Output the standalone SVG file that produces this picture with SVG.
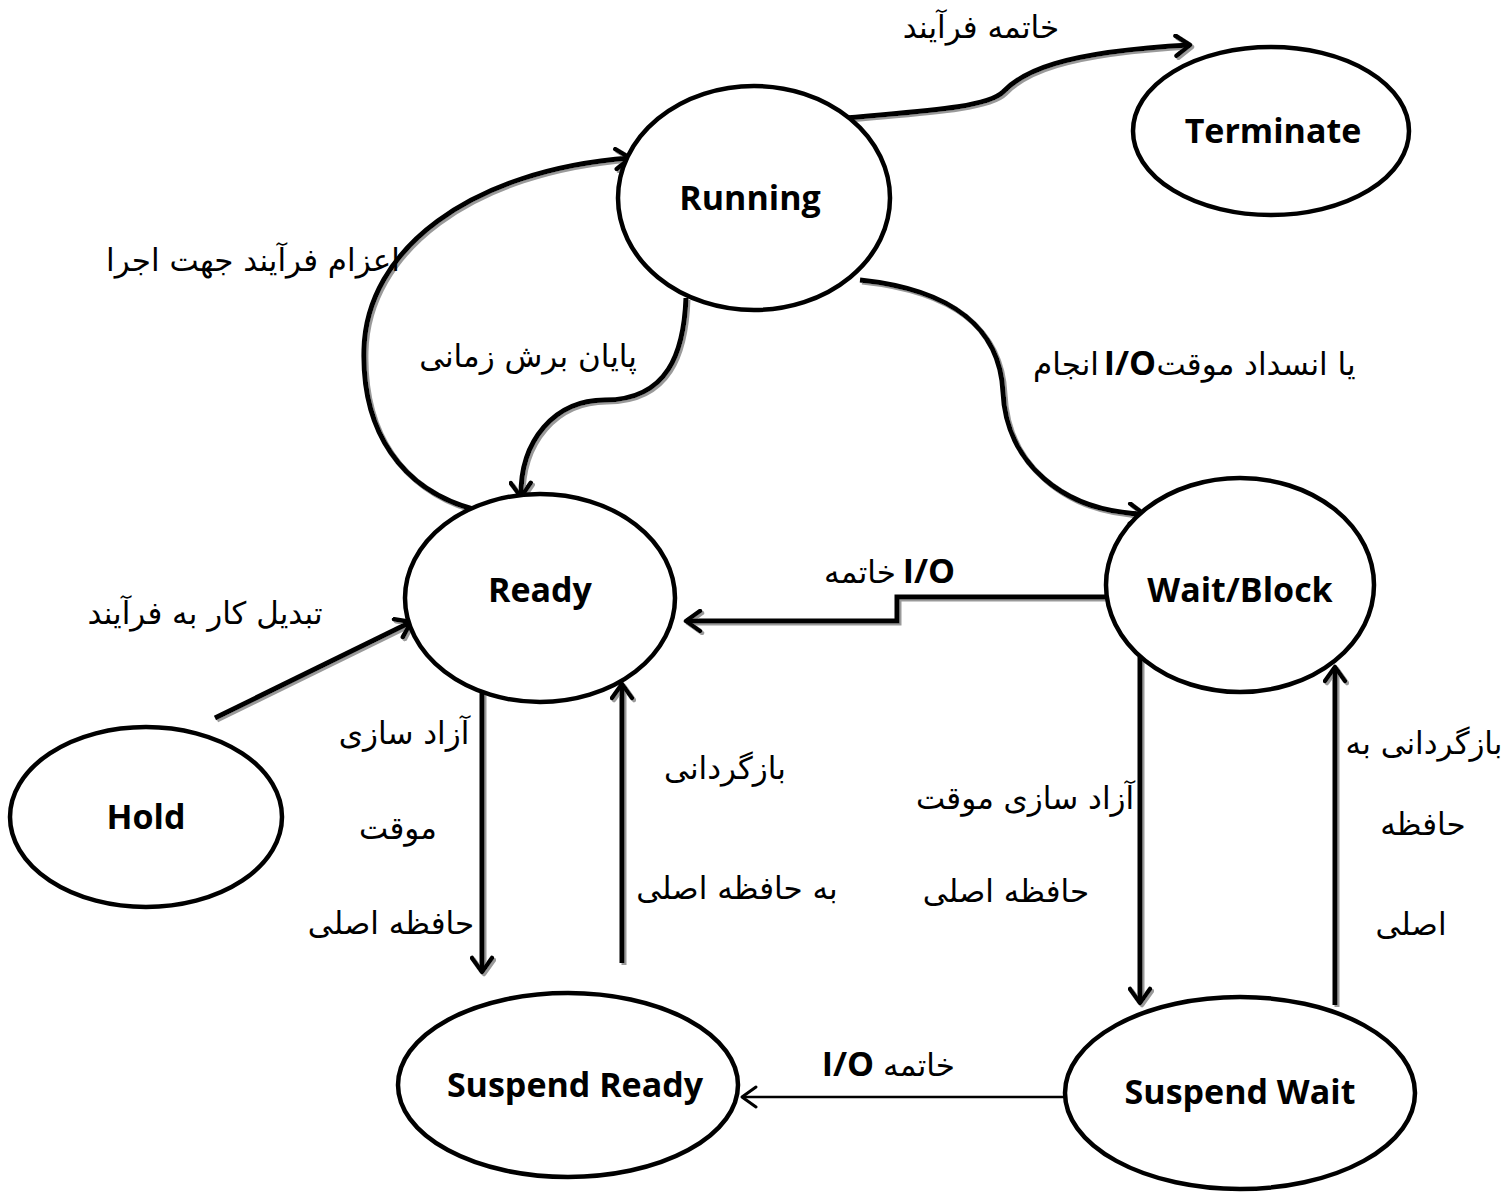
<svg xmlns="http://www.w3.org/2000/svg" width="1505" height="1196" viewBox="0 0 1505 1196">
  <style>
    .state { fill: #ffffff; stroke: #000000; stroke-width: 4.5; }
    .name { font-family: "Open Sans", "Noto Sans", sans-serif; font-weight: bold; font-size: 34px; fill: #000; text-anchor: middle; }
    .edge { fill: none; stroke: #000000; stroke-width: 5; stroke-linejoin: miter; }
    .thin { stroke-width: 2.5; }
    .fa { font-family: "DejaVu Sans", "Noto Sans", sans-serif; font-size: 31px; fill: #000; text-anchor: middle; direction: rtl; }
    .io { font-family: "Open Sans", "Noto Sans", sans-serif; font-weight: bold; font-size: 34px; fill: #000; text-anchor: middle; }
  </style>
  <defs>
    <marker id="arrow" viewBox="-18 -12 22 24" refX="0" refY="0" markerWidth="22" markerHeight="24" markerUnits="userSpaceOnUse" orient="auto">
      <path d="M -14,-10 L 0,0 L -14,10" fill="none" stroke="#000" stroke-width="4.5" stroke-linecap="round" stroke-linejoin="round"/>
    </marker>
    <marker id="arrowThin" viewBox="-18 -12 22 24" refX="0" refY="0" markerWidth="22" markerHeight="24" markerUnits="userSpaceOnUse" orient="auto">
      <path d="M -14,-10 L 0,0 L -14,10" fill="none" stroke="#000" stroke-width="3" stroke-linecap="round" stroke-linejoin="round"/>
    </marker>
    <filter id="shade" x="-10%" y="-10%" width="120%" height="120%">
      <feOffset in="SourceAlpha" dx="2" dy="2" result="off"/>
      <feFlood flood-color="#9a9a9a"/>
      <feComposite in2="off" operator="in" result="sh"/>
      <feMerge><feMergeNode in="sh"/><feMergeNode in="SourceGraphic"/></feMerge>
    </filter>
  </defs>

  <rect width="1505" height="1196" fill="#ffffff"/>

  <!-- transitions -->
  <g id="connectors">
    <g filter="url(#shade)">
      <!-- Running -> Terminate -->
      <path class="edge" d="M 826,120 C 900,112 985,110 1003,92 C 1022,72 1060,52 1190,45" marker-end="url(#arrow)"/>
      <!-- Ready -> Running -->
      <path class="edge" d="M 476,510 C 400,490 362,430 364,350 C 366,250 470,170 630,158" marker-end="url(#arrow)"/>
      <!-- Running -> Ready (time slice) -->
      <path class="edge" d="M 686,298 C 684,352 668,400 605,400 C 555,400 520,440 521,497" marker-end="url(#arrow)"/>
      <!-- Running -> Wait/Block -->
      <path class="edge" d="M 860,280 C 955,290 1000,330 1003,392 C 1006,462 1062,512 1144,514" marker-end="url(#arrow)"/>
      <!-- Wait/Block -> Ready -->
      <path class="edge" d="M 1106,597 L 897,597 L 897,621 L 686,621" marker-end="url(#arrow)"/>
      <!-- Hold -> Ready -->
      <path class="edge" d="M 215,718 L 411,622" marker-end="url(#arrow)"/>
      <!-- Ready -> Suspend Ready -->
      <path class="edge" d="M 482,690 L 482,972" marker-end="url(#arrow)"/>
      <!-- Suspend Ready -> Ready -->
      <path class="edge" d="M 622,963 L 622,684" marker-end="url(#arrow)"/>
      <!-- Wait/Block -> Suspend Wait -->
      <path class="edge" d="M 1140,657 L 1140,1003" marker-end="url(#arrow)"/>
      <!-- Suspend Wait -> Wait/Block -->
      <path class="edge" d="M 1335,1005 L 1335,667" marker-end="url(#arrow)"/>
    </g>
    <!-- Suspend Wait -> Suspend Ready -->
    <path class="edge thin" d="M 1065,1097 L 742,1097" marker-end="url(#arrowThin)"/>
  </g>

  <!-- states -->
  <g id="terminate">
    <ellipse class="state" cx="1271" cy="131" rx="138" ry="84"/>
    <text class="name" x="1273" y="143">Terminate</text>
  </g>
  <g id="running">
    <ellipse class="state" cx="754" cy="198" rx="136" ry="112"/>
    <text class="name" x="750" y="210">Running</text>
  </g>
  <g id="ready">
    <ellipse class="state" cx="540" cy="598" rx="135" ry="104"/>
    <text class="name" x="540" y="602">Ready</text>
  </g>
  <g id="wait-block">
    <ellipse class="state" cx="1240" cy="585" rx="134" ry="107"/>
    <text class="name" x="1240" y="602">Wait/Block</text>
  </g>
  <g id="hold">
    <ellipse class="state" cx="146" cy="817" rx="136" ry="90"/>
    <text class="name" x="146" y="829">Hold</text>
  </g>
  <g id="suspend-ready">
    <ellipse class="state" cx="568" cy="1085" rx="170" ry="92"/>
    <text class="name" x="575" y="1097">Suspend Ready</text>
  </g>
  <g id="suspend-wait">
    <ellipse class="state" cx="1240" cy="1093" rx="175" ry="96"/>
    <text class="name" x="1240" y="1104">Suspend Wait</text>
  </g>

  <!-- transition labels -->
  <g id="labels">
    <text class="fa" x="981" y="38">خاتمه فرآیند</text>
    <text class="fa" x="253" y="271">اعزام فرآیند جهت اجرا</text>
    <text class="fa" x="528" y="367">پایان برش زمانی</text>
    <text class="fa" x="1256" y="375">یا انسداد موقت</text>
    <text class="io" x="1130" y="375">I/O</text>
    <text class="fa" x="1066" y="375">انجام</text>
    <text class="io" x="929" y="583">I/O</text>
    <text class="fa" x="860" y="583">خاتمه</text>
    <text class="fa" x="205" y="624">تبدیل کار به فرآیند</text>
    <text class="fa" x="404" y="744">آزاد سازی</text>
    <text class="fa" x="398" y="839">موقت</text>
    <text class="fa" x="391" y="934">حافظه اصلی</text>
    <text class="fa" x="725" y="779">بازگردانی</text>
    <text class="fa" x="737" y="899">به حافظه اصلی</text>
    <text class="fa" x="1025" y="809">آزاد سازی موقت</text>
    <text class="fa" x="1006" y="902">حافظه اصلی</text>
    <text class="fa" x="1424" y="754">بازگردانی به</text>
    <text class="fa" x="1423" y="835">حافظه</text>
    <text class="fa" x="1411" y="935">اصلی</text>
    <text class="io" x="848" y="1076">I/O</text>
    <text class="fa" x="919" y="1076">خاتمه</text>
  </g>
</svg>
